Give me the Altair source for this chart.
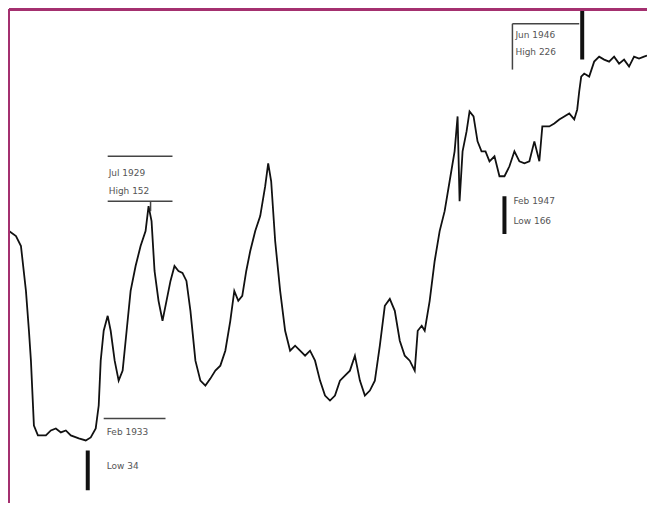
import altair as alt
import pandas as pd

# Index level over time (month index, level)
months = [0, 7, 12, 17, 20, 22, 25, 29, 37, 42, 47, 52, 57, 62, 70, 77, 82, 87, 90, 92,
          95, 99, 102, 106, 110, 114, 118, 122, 127, 132, 137, 140, 143, 146, 150, 154,
          158, 162, 166, 170, 174, 178, 182, 187, 192, 197, 202, 207, 212, 217, 222,
          226, 230, 234, 238, 242, 247, 252, 257, 260, 263, 267, 272, 277, 282, 287,
          292, 297, 302, 307, 312, 317, 322, 327, 332, 337, 342, 347, 352, 357, 362,
          367, 372, 377, 382, 387, 392, 397, 402, 407, 410, 414, 417, 422, 427, 432,
          437, 442, 447, 450, 452, 455, 459, 462, 466, 470, 474, 478, 482, 487, 492,
          497, 502, 507, 512, 517, 522, 527, 532, 535, 542, 547, 552, 557, 562, 567,
          570, 572, 574, 577, 582, 587, 592, 597, 602, 607, 612, 617, 622, 627, 632,
          637, 640]
levels = [139, 136.5, 131.5, 109, 89, 74, 41.5, 36.5, 36.5, 39, 40, 38, 39, 36.5, 35, 34,
          35.5, 40, 51.5, 74, 89, 96.5, 89, 74, 64, 69, 89, 109, 121.5, 131.5, 139,
          151.5, 144, 119, 104, 94, 104, 114, 121.5, 119, 118, 114, 99, 74, 64, 61.5,
          65, 69, 71.5, 79, 94, 109, 104, 106.5, 119, 129, 139, 146.5, 161.5, 173, 164,
          134, 109, 89, 79, 81.5, 79, 76.5, 79, 74, 64, 56.5, 54, 56.5, 64, 66.5, 69,
          76.5, 64, 56.5, 59, 64, 81.5, 101.5, 105, 99, 84, 76.5, 74, 69, 89, 91.5, 89,
          104, 124, 139, 149, 164, 179, 196.5, 154, 179, 189, 199, 196.5, 184, 179, 179,
          174, 176.5, 166.5, 166.5, 171.5, 179, 174, 173, 174, 184, 174, 191.5, 191.5,
          193, 195, 196.5, 198, 195, 200, 209, 216.5, 218, 216.5, 224, 226.5, 225, 224,
          226.5, 223, 225, 221.5, 226.5, 225.5, 226.5, 227]

# Annotation labels
label_text = ["Jun  1946", "High  226", "Jul  1929", "High  152",
              "Feb  1933", "Low  34", "Feb  1947", "Low  166"]
label_t = [508, 508, 100, 100, 98, 98, 506, 506]
label_v = [237.5, 229, 168, 159, 38, 21, 154, 144]

# Annotation leader lines (thin)
thin_t = [505, 505, 99, 99, 142, 95]
thin_t2 = [505, 572, 164, 164, 142, 157]
thin_v = [243, 243, 176.5, 154, 154, 45]
thin_v2 = [220, 243, 176.5, 154, 149, 45]

# Annotation markers (thick)
thick_t = [575, 79, 497]
thick_v = [250, 29, 156.5]
thick_v2 = [225, 9, 137.5]

df = pd.DataFrame({"t": months, "v": levels})
labels = pd.DataFrame({"text": label_text, "t": label_t, "v": label_v})
thin = pd.DataFrame({"t": thin_t, "t2": thin_t2, "v": thin_v, "v2": thin_v2})
thick = pd.DataFrame({"t": thick_t, "v": thick_v, "v2": thick_v2})

W, H = 640, 494
xs = alt.Scale(domain=[0, 640], nice=False, zero=False)
ys = alt.Scale(domain=[3, 250], nice=False, zero=False)
X = alt.X("t:Q", scale=xs, axis=None)
Y = alt.Y("v:Q", scale=ys, axis=None)

line = alt.Chart(df).mark_line(color="#111111", strokeWidth=1.8, clip=True,
                               interpolate="linear").encode(x=X, y=Y)

thin_rules = alt.Chart(thin).mark_rule(color="#444444", strokeWidth=1.5).encode(
    x=X, x2="t2:Q", y=Y, y2="v2:Q")

thick_rules = alt.Chart(thick).mark_rule(color="#111111", strokeWidth=4, clip=True).encode(
    x=X, y=Y, y2="v2:Q")

text = alt.Chart(labels).mark_text(align="left", baseline="middle", fontSize=9,
                                   font="DejaVu Sans", color="#555555").encode(
    x=X, y=Y, text="text:N")

border_top = alt.Chart(df).mark_rule(color="#a4306f", strokeWidth=2).encode(
    x=alt.value(0), x2=alt.value(W), y=alt.value(0))
border_left = alt.Chart(df).mark_rule(color="#a4306f", strokeWidth=2).encode(
    x=alt.value(0), y=alt.value(0), y2=alt.value(H))

chart = alt.layer(line, thin_rules, thick_rules, text, border_top, border_left).properties(
    width=W, height=H, padding=0, background="white"
).configure_view(stroke=None)

chart.save("out.html", embed_options={"renderer": "svg", "actions": False})
